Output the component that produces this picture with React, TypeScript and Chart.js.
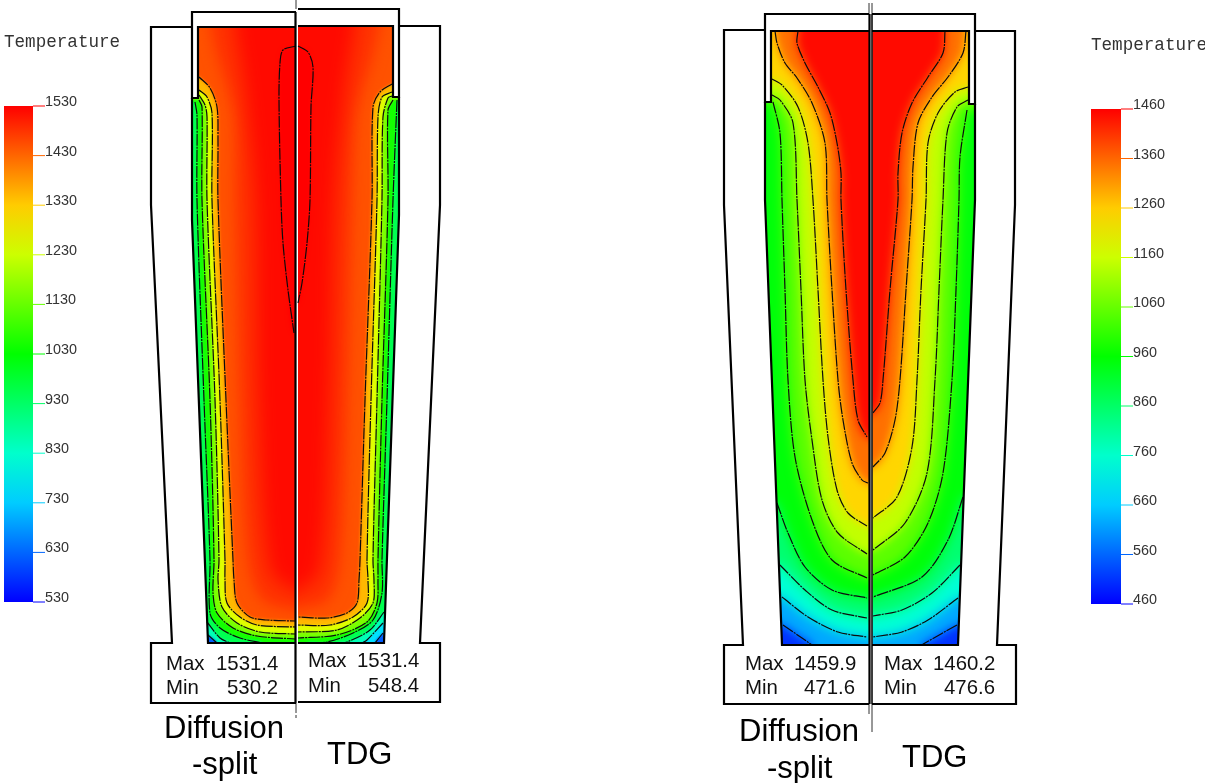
import React, { useEffect, useRef } from "react";
import { Chart, registerables } from "chart.js";

type P = number[];

/* ---------- legend values ---------- */
const legendTicksA = [1530, 1430, 1330, 1230, 1130, 1030, 930, 830, 730, 630, 530];
const legendTicksB = [1460, 1360, 1260, 1160, 1060, 960, 860, 760, 660, 560, 460];

/* ---------- left figure, Diffusion-split half: isotherms ---------- */
const aL1500: P[] = [[296,46],[283,50],[280,63],[279,100],[281,200],[283,243],[288,290],[294,333]];
const aL1490: P[] = [[235,27],[245,90],[255,200],[258,400],[270,570],[295,590]];
const aL1450: P[] = [[210,27],[218,60],[228,90],[235,120],[235,200],[240,400],[248,560],[262,600],[295,610]];
const aL1400: P[] = [[199,77],[210,88],[217,107],[218,140],[218,200],[226,400],[233,560],[234,580],[237,603],[250,617],[267,620],[295,621]];
const aL1300: P[] = [[199,90],[207,97],[212,113],[212,200],[220,400],[225,560],[225,580],[227,603],[240,617],[257,625],[295,627]];
const aL1200: P[] = [[199,95],[205,105],[207,117],[207,200],[215,400],[219,560],[218,580],[222,607],[237,623],[260,632],[295,634]];
const aL1100: P[] = [[199,100],[202,107],[202,200],[210,400],[214,560],[213,593],[217,613],[233,628],[257,636],[295,639]];
const aL1000: P[] = [[195,102],[197,115],[197,200],[204,400],[210,560],[210,613],[220,628],[240,638],[263,643]];
const aL900: P[] = [[207,622],[220,638],[230,643]];
const aL800: P[] = [[208,635],[217,643]];

/* ---------- left figure, TDG half ---------- */
const aR1500: P[] = [[298,46],[308,52],[313,67],[311,107],[310,200],[307,243],[302,283],[298,303]];
const aR1490: P[] = [[355,26],[345,90],[335,200],[330,400],[320,570],[298,590]];
const aR1450: P[] = [[380,26],[372,60],[362,90],[355,120],[352,200],[347,400],[340,560],[328,600],[298,608]];
const aR1400: P[] = [[392,84],[380,92],[373,107],[372,200],[365,400],[360,560],[359,580],[357,603],[347,613],[327,618],[298,617]];
const aR1300: P[] = [[392,92],[382,97],[378,117],[377,200],[371,400],[367,560],[368,580],[367,603],[353,617],[330,625],[298,625]];
const aR1200: P[] = [[392,96],[388,98],[383,117],[382,200],[377,400],[373,560],[374,580],[373,603],[360,618],[337,630],[298,632]];
const aR1100: P[] = [[393,100],[388,110],[388,200],[382,400],[378,560],[378,580],[377,603],[367,622],[337,635],[298,638]];
const aR1000: P[] = [[397,100],[393,200],[387,400],[382,560],[382,593],[373,620],[353,633],[327,642],[307,643]];
const aR900: P[] = [[384,612],[370,630],[347,642],[340,643]];
const aR800: P[] = [[383,623],[367,640],[362,643]];
const aR700: P[] = [[383,633],[375,643]];

/* ---------- right figure, Diffusion-split half ---------- */
const bL1400: P[] = [[798,31],[797,43],[805,63],[818,87],[830,113],[837,143],[841,173],[841,200],[846,290],[853,380],[858,420],[867,437]];
const bL1300: P[] = [[775,31],[777,43],[785,63],[797,78],[812,103],[825,143],[827,200],[832,290],[838,380],[843,420],[852,463],[862,480],[868,483]];
const bL1200: P[] = [[772,79],[782,85],[798,107],[808,143],[813,200],[818,290],[823,380],[828,437],[837,490],[848,513],[867,526]];
const bL1100: P[] = [[772,95],[780,100],[793,123],[797,200],[801,290],[805,380],[812,440],[822,500],[838,533],[867,554]];
const bL1000: P[] = [[773,102],[780,133],[782,200],[785,290],[788,380],[795,457],[812,520],[832,560],[867,578]];
const bL900: P[] = [[777,503],[788,533],[805,567],[832,590],[867,598]];
const bL800: P[] = [[780,565],[805,590],[832,610],[867,618]];
const bL700: P[] = [[782,597],[808,617],[838,632],[867,637]];
const bL600: P[] = [[783,625],[802,638],[812,645]];

/* ---------- right figure, TDG half ---------- */
const bR1400: P[] = [[945,31],[943,53],[928,77],[912,103],[902,133],[898,173],[898,200],[890,290],[883,380],[880,403],[873,413]];
const bR1300: P[] = [[966,31],[963,53],[948,77],[932,97],[918,123],[913,167],[912,200],[906,290],[900,380],[895,420],[885,453],[873,467]];
const bR1200: P[] = [[968,87],[955,92],[938,113],[928,143],[926,200],[921,290],[917,380],[912,447],[897,497],[873,518]];
const bR1100: P[] = [[968,100],[957,107],[947,133],[943,200],[939,290],[935,380],[927,473],[905,523],[873,550]];
const bR1000: P[] = [[967,110],[960,157],[959,200],[956,290],[952,380],[943,473],[928,523],[905,557],[873,575]];
const bR900: P[] = [[963,497],[948,540],[922,577],[873,597]];
const bR800: P[] = [[960,565],[932,593],[902,610],[873,616]];
const bR700: P[] = [[958,598],[928,620],[902,632],[873,637]];
const bR600: P[] = [[957,625],[925,643],[922,645]];

/* ---------- casting outlines ---------- */
const aClipL: P[] = [[198,27],[295,27],[295,643],[208,643],[192,220],[192,98],[198,98]];
const aClipR: P[] = [[298,26],[393,26],[393,97],[399,97],[399,215],[384,643],[298,643]];
const bClipL: P[] = [[771,31],[869,31],[869,645],[782,645],[765,200],[765,102],[771,102]];
const bClipR: P[] = [[872,31],[969,31],[969,104],[975,104],[975,200],[958,645],[872,645]];

const outlines: P[][] = [
  [[296,703],[151,703],[151,643],[172,643],[151,205],[151,27],[192,27]],
  [[298,702],[440,702],[440,643],[420,643],[440,205],[440,26],[399,26]],
  [[296,12],[192,12],[192,98],[198,98],[198,27],[296,27]],
  [[298,9],[399,9],[399,97],[393,97],[393,26],[298,26]],
  [[192,98],[192,220],[208,643],[296,643]],
  [[399,97],[399,215],[384,643],[298,643]],
  [[295.5,12],[295.5,703]],
  [[869,704],[724,704],[724,645],[743,645],[724,205],[724,30],[765,30]],
  [[872,704],[1016,704],[1016,645],[997,645],[1015,205],[1015,31],[975,31]],
  [[869,14],[765,14],[765,102],[771,102],[771,31],[869,31]],
  [[872,14],[975,14],[975,104],[969,104],[969,31],[872,31]],
  [[765,102],[765,200],[782,645],[869,645]],
  [[975,104],[975,200],[958,645],[872,645]],
  [[869.5,14],[869.5,704]],
];
const thinLines: P[][] = [[[872,14],[872,704]]];
const faintLines: P[][] = [
  [[296,0],[296,9]],
  [[296,703],[296,713]],
  [[296,715],[296,718]],
  [[869,3],[869,14]],
  [[872,3],[872,14]],
  [[869,704],[869,714]],
  [[872,704],[872,732]],
];

/* ---------- text ---------- */
const SANS = '"Liberation Sans", Arial, sans-serif';
const MONO = '"Liberation Mono", monospace';
const captions: [string, number, number][] = [
  ["Max", 166, 670], ["1531.4", 216, 670], ["Min", 166, 694], ["530.2", 227, 694],
  ["Max", 308, 667], ["1531.4", 357, 667], ["Min", 308, 692], ["548.4", 368, 692],
  ["Max", 745, 670], ["1459.9", 794, 670], ["Min", 745, 694], ["471.6", 804, 694],
  ["Max", 884, 670], ["1460.2", 933, 670], ["Min", 884, 694], ["476.6", 944, 694],
];
const titles: [string, number, number][] = [
  ["Diffusion", 164, 738], ["-split", 192, 774], ["TDG", 327, 764],
  ["Diffusion", 739, 741], ["-split", 767, 778], ["TDG", 902, 767],
];
const headers: [string, number, number][] = [["Temperature", 4, 47], ["Temperature", 1091, 50]];

/* ---------- helpers ---------- */
const colourFor = (t: number, lo: number, hi: number) => {
  const f = Math.min(1, Math.max(0, (t - lo) / (hi - lo)));
  return `hsl(${240 * (1 - f)}, 100%, 50%)`;
};
const xy = (pts: P[]) => pts.map(([x, y]) => ({ x, y }));

function hotRegion(pts: P[], dir: number, cx: number, loop = false): P[] {
  const [sx, sy] = pts[0];
  const [ex, ey] = pts[pts.length - 1];
  const out = [...pts];
  const far = cx + dir * 25;
  if (Math.abs(ex - cx) > 6) {
    out.push([ex, ey + 25], [far, ey + 25]);
  } else {
    out.push([far, ey]);
  }
  if (loop) {
    out.push([far, sy]);
    return out;
  }
  out.push([far, -10]);
  if (sy <= 35) out.push([sx, -10]);
  else out.push([sx - dir * 25, -10], [sx - dir * 25, sy]);
  return out;
}

type Layer = [number, P[], boolean, number];
type Half = { clip: P[]; dir: number; cx: number; lo: number; hi: number; base: number; layers: Layer[] };

const halves: Half[] = [
  { clip: aClipL, dir: 1, cx: 296, lo: 530, hi: 1530, base: 620, layers: [
    [800, aL800, true, 1.2],[900, aL900, true, 1.2],[1000, aL1000, true, 1.2],[1100, aL1100, true, 1.2],
    [1200, aL1200, true, 1.2],[1300, aL1300, true, 1.2],[1400, aL1400, true, 1.5],
    [1450, aL1450, false, 7],[1490, aL1490, false, 9],[1500, aL1500, true, 2],
  ]},
  { clip: aClipR, dir: -1, cx: 297, lo: 530, hi: 1530, base: 620, layers: [
    [700, aR700, true, 1.2],[800, aR800, true, 1.2],[900, aR900, true, 1.2],[1000, aR1000, true, 1.2],[1100, aR1100, true, 1.2],
    [1200, aR1200, true, 1.2],[1300, aR1300, true, 1.2],[1400, aR1400, true, 1.5],
    [1450, aR1450, false, 7],[1490, aR1490, false, 9],[1500, aR1500, true, 2],
  ]},
  { clip: bClipL, dir: 1, cx: 869, lo: 460, hi: 1460, base: 510, layers: [
    [600, bL600, true, 5],[700, bL700, true, 6],[800, bL800, true, 6],[900, bL900, true, 6],[1000, bL1000, true, 6],
    [1100, bL1100, true, 5],[1200, bL1200, true, 5],[1300, bL1300, true, 5],[1400, bL1400, true, 5],
  ]},
  { clip: bClipR, dir: -1, cx: 872, lo: 460, hi: 1460, base: 510, layers: [
    [600, bR600, true, 5],[700, bR700, true, 6],[800, bR800, true, 6],[900, bR900, true, 6],[1000, bR1000, true, 6],
    [1100, bR1100, true, 5],[1200, bR1200, true, 5],[1300, bR1300, true, 5],[1400, bR1400, true, 5],
  ]},
];

const lineBase = { showLine: true, pointRadius: 0, pointHoverRadius: 0, fill: false, tension: 0 };

function buildDatasets() {
  const painted: any[] = [];
  const bar = (ticks: number[], left: number, right: number, end: number, top: number, bottom: number) => {
    const hi = ticks[0];
    const lo = ticks[ticks.length - 1];
    const yOf = (v: number) => top + ((hi - v) / (hi - lo)) * (bottom - top);
    painted.push({
      ...lineBase,
      data: xy([[left, top],[right, top],[right, bottom],[left, bottom]]),
      fill: "shape",
      borderWidth: 0,
      backgroundColor: (c: any) => {
        const g = c.chart.ctx.createLinearGradient(0, top, 0, bottom);
        ticks.forEach((v, i) => {
          g.addColorStop(i / (ticks.length - 1), colourFor(v, lo, hi));
        });
        return g;
      },
    });
    ticks.forEach((v) => {
      painted.push({ ...lineBase, data: xy([[right, yOf(v)],[end, yOf(v)]]), borderColor: colourFor(v, lo, hi), borderWidth: 1 });
    });
  };
  bar(legendTicksA, 4, 33, 45, 106, 602);
  bar(legendTicksB, 1091, 1121, 1133, 109, 604);

  halves.forEach((h) => {
    painted.push({
      ...lineBase, data: xy(h.clip), fill: "shape", borderWidth: 0,
      backgroundColor: colourFor(h.base, h.lo, h.hi), fieldClip: h.clip, blur: 0,
    });
    h.layers.forEach(([t, pts, , blur]) => {
      const isLoop = t === 1500;
      const offset = t >= 1450 ? 30 : t === 600 ? 25 : 50;
      painted.push({
        ...lineBase, data: xy(hotRegion(pts, h.dir, h.cx, isLoop)), fill: "shape", borderWidth: 0, tension: 0.3,
        backgroundColor: colourFor(t + offset, h.lo, h.hi), fieldClip: h.clip, blur,
      });
    });
  });
  halves.forEach((h) => {
    h.layers.forEach(([, pts, stroke]) => {
      if (!stroke) return;
      painted.push({ ...lineBase, data: xy(pts), tension: 0.3, borderColor: "#0c0c0c", borderWidth: 1.2, borderDash: [12, 1, 2, 1] });
    });
  });
  faintLines.forEach((l) => painted.push({ ...lineBase, data: xy(l), borderColor: "#8a8a8a", borderWidth: 1 }));
  thinLines.forEach((l) => painted.push({ ...lineBase, data: xy(l), borderColor: "#222", borderWidth: 1 }));
  outlines.forEach((l) => painted.push({ ...lineBase, data: xy(l), borderColor: "#000", borderWidth: 2.2, borderJoinStyle: "miter" }));
  // Chart.js paints the first dataset last
  return painted.reverse();
}

const fieldPlugin = {
  id: "fieldPlugin",
  beforeDatasetDraw(chart: any, args: any) {
    const ds = chart.data.datasets[args.index];
    if (!ds.fieldClip) return;
    const { ctx, scales } = chart;
    ctx.save();
    ctx.beginPath();
    ds.fieldClip.forEach(([x, y]: P, i: number) => {
      const px = scales.x.getPixelForValue(x);
      const py = scales.y.getPixelForValue(y);
      if (i === 0) ctx.moveTo(px, py);
      else ctx.lineTo(px, py);
    });
    ctx.closePath();
    ctx.clip();
    if (ds.blur) ctx.filter = `blur(${ds.blur}px)`;
  },
  afterDatasetDraw(chart: any, args: any) {
    const ds = chart.data.datasets[args.index];
    if (ds.fieldClip) chart.ctx.restore();
  },
};

const textPlugin = {
  id: "textPlugin",
  afterDraw(chart: any) {
    const { ctx, scales } = chart;
    const put = (list: [string, number, number][], font: string, colour: string) => {
      ctx.save();
      ctx.font = font;
      ctx.fillStyle = colour;
      ctx.textBaseline = "alphabetic";
      list.forEach(([s, x, y]) => ctx.fillText(s, scales.x.getPixelForValue(x), scales.y.getPixelForValue(y)));
      ctx.restore();
    };
    const tickLabels = (ticks: number[], x: number, top: number, bottom: number) => {
      const hi = ticks[0];
      const lo = ticks[ticks.length - 1];
      return ticks.map((v) => [String(v), x, top + ((hi - v) / (hi - lo)) * (bottom - top)] as [string, number, number]);
    };
    put(headers, `17.6px ${MONO}`, "#333");
    put(tickLabels(legendTicksA, 45, 106, 602), `14.4px ${SANS}`, "#333");
    put(tickLabels(legendTicksB, 1133, 109, 604), `14.4px ${SANS}`, "#333");
    put(captions, `20.4px ${SANS}`, "#111");
    put(titles, `31px ${SANS}`, "#000");
  },
};

Chart.register(fieldPlugin, ...registerables);

export default function App() {
  const ref = useRef<HTMLCanvasElement>(null);
  useEffect(() => {
    if (!ref.current) return;
    const chart = new Chart(ref.current, {
      type: "scatter",
      data: { datasets: buildDatasets() },
      plugins: [textPlugin],
      options: {
        animation: false,
        responsive: false,
        devicePixelRatio: 1,
        layout: { padding: 0 },
        events: [],
        plugins: { legend: { display: false }, tooltip: { enabled: false }, title: { display: false } },
        scales: {
          x: { type: "linear", display: false, min: 0, max: 1205 },
          y: { type: "linear", display: false, min: 0, max: 783, reverse: true },
        },
      },
    } as any);
    return () => chart.destroy();
  }, []);
  return (
    <div style={{ position: "absolute", left: 0, top: 0, width: 1205, height: 783, background: "#fff", overflow: "hidden" }}>
      <canvas ref={ref} width={1205} height={783} style={{ display: "block" }} />
    </div>
  );
}
